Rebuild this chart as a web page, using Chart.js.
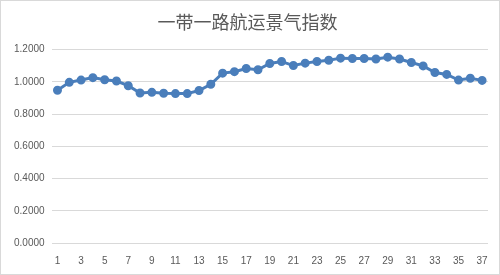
<!DOCTYPE html>
<html lang="zh">
<head>
<meta charset="UTF-8">
<title>一带一路航运景气指数</title>
<style>
  html, body { margin: 0; padding: 0; background: #fff; }
  #wrap { position: absolute; left: 0; top: 0; width: 498px; height: 273px; border: 1px solid #d9d9d9; }
</style>
</head>
<body>
<div id="wrap"><canvas id="myChart"></canvas></div>
<script src="https://cdn.jsdelivr.net/npm/chart.js"></script>
<script>
const labels = [];
for (let i = 1; i <= 37; i++) labels.push(String(i));

const indexValues = [
  0.948, 0.997, 1.011, 1.026, 1.013, 1.005, 0.976, 0.931, 0.935, 0.929,
  0.927, 0.927, 0.946, 0.985, 1.054, 1.063, 1.083, 1.075, 1.114, 1.126,
  1.101, 1.116, 1.126, 1.134, 1.147, 1.145, 1.145, 1.142, 1.153, 1.142,
  1.120, 1.099, 1.058, 1.046, 1.011, 1.022, 1.009
];

const titleText = '一带一路航运景气指数';
const font = "'Noto Sans CJK SC', 'Liberation Sans', sans-serif";

new Chart(document.getElementById('myChart'), {
  type: 'line',
  data: {
    labels: labels,
    datasets: [{
      data: indexValues,
      borderColor: '#4A7EBB',
      backgroundColor: '#4A7EBB',
      borderWidth: 3,
      pointRadius: 3,
      pointHoverRadius: 4,
      tension: 0
    }]
  },
  options: {
    responsive: true,
    maintainAspectRatio: false,
    animation: false,
    layout: { padding: { left: 6, right: 11, top: 8, bottom: 3 } },
    plugins: {
      legend: { display: false },
      tooltip: { enabled: false },
      title: {
        display: true,
        text: titleText,
        color: '#595959',
        font: { family: font, size: 18, weight: 'normal' },
        padding: { top: 2, bottom: 17 }
      }
    },
    scales: {
      x: {
        offset: true,
        grid: { display: false },
        border: { display: false },
        ticks: {
          color: '#595959',
          font: { family: "'Liberation Sans', sans-serif", size: 10 },
          maxRotation: 0,
          autoSkip: false,
          padding: 4,
          callback: function (v, i) { return i % 2 === 0 ? labels[i] : ''; }
        }
      },
      y: {
        min: 0,
        max: 1.2,
        grid: { color: '#d9d9d9', drawTicks: false },
        border: { display: false },
        ticks: {
          stepSize: 0.2,
          color: '#595959',
          font: { family: "'Liberation Sans', sans-serif", size: 10 },
          padding: 7,
          callback: function (v) { return v.toFixed(4); }
        }
      }
    }
  }
});
</script>
</body>
</html>
